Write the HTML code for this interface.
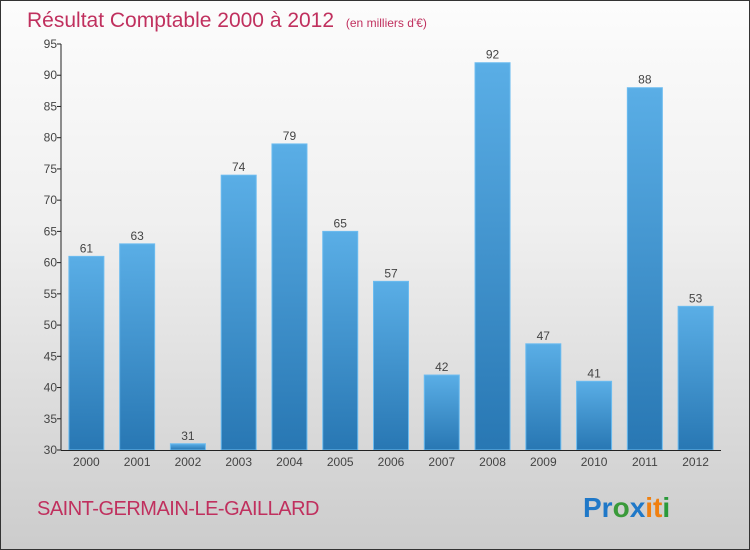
<!DOCTYPE html>
<html><head><meta charset="utf-8"><style>
body{margin:0}
#c{position:relative;width:748px;height:548px;border:1px solid #333;background:linear-gradient(#fcfcfc,#f0f0f0 40%,#d8d8d8 80%,#cccccc);font-family:"Liberation Sans",sans-serif;overflow:hidden}
</style></head><body>
<div id="c">
<svg width="748" height="548" xmlns="http://www.w3.org/2000/svg" id="svg">
<defs><linearGradient id="bg" x1="0" y1="0" x2="0" y2="1"><stop offset="0" stop-color="#5aaee6"/><stop offset="1" stop-color="#2877b3"/></linearGradient></defs>
<text x="26" y="26" font-size="21" fill="#c0305e">Résultat Comptable 2000 à 2012 <tspan font-size="12" dx="6">(en milliers d'€)</tspan></text>
<g id="g"></g>
<text x="36" y="514" font-size="20" fill="#c0305e" letter-spacing="-0.5">SAINT-GERMAIN-LE-GAILLARD</text>
<g font-size="28" font-weight="bold" font-family="'Liberation Sans',sans-serif">
<text x="582" y="516"><tspan fill="#1f78c8">Pr</tspan><tspan fill="#3a9a3a">o</tspan><tspan fill="#1f78c8">x</tspan><tspan fill="#f08010">it</tspan><tspan fill="#2a9a3a">i</tspan></text></g>
</svg></div>
<script>
const categories=["2000","2001","2002","2003","2004","2005","2006","2007","2008","2009","2010","2011","2012"];
const values=[61,63,31,74,79,65,57,42,92,47,41,88,53];
const ticks=[30,35,40,45,50,55,60,65,70,75,80,85,90,95];
const NS="http://www.w3.org/2000/svg",g=document.getElementById('g');
const x0=60,x1=720,yb=449,yt=43,vmin=30,vmax=95;
const y=v=>yb-(v-vmin)/(vmax-vmin)*(yb-yt);
const band=(x1-x0)/categories.length;
function el(t,a){const e=document.createElementNS(NS,t);for(const k in a)e.setAttribute(k,a[k]);g.appendChild(e);return e;}
ticks.forEach(t=>{
const l=el('line',{x1:x0-4,x2:x0,y1:y(t),y2:y(t),stroke:'#222'});


const tx=el('text',{x:x0-4,y:y(t)+4,'text-anchor':'end','font-size':12,fill:'#444'});
tx.textContent=t;


});
categories.forEach((c,i)=>{
const cx=x0+band*(i+0.5),v=values[i];
const r=el('rect',{x:cx-17.5,y:y(v),width:35,height:yb-y(v),fill:'url(#bg)',stroke:'#6cbcf0','stroke-width':1});


const vl=el('text',{x:cx,y:y(v)-4,'text-anchor':'middle','font-size':12,fill:'#444'});
vl.textContent=v;


const tl=el('text',{x:cx,y:yb+16,'text-anchor':'middle','font-size':12,fill:'#444'});
tl.textContent=c;


});
const ya=el('line',{x1:x0,x2:x0,y1:yt,y2:yb,stroke:'#222'});


const xa=el('line',{x1:x0,x2:x1,y1:yb+0.5,y2:yb+0.5,stroke:'#222'});


</script>
</body></html>
